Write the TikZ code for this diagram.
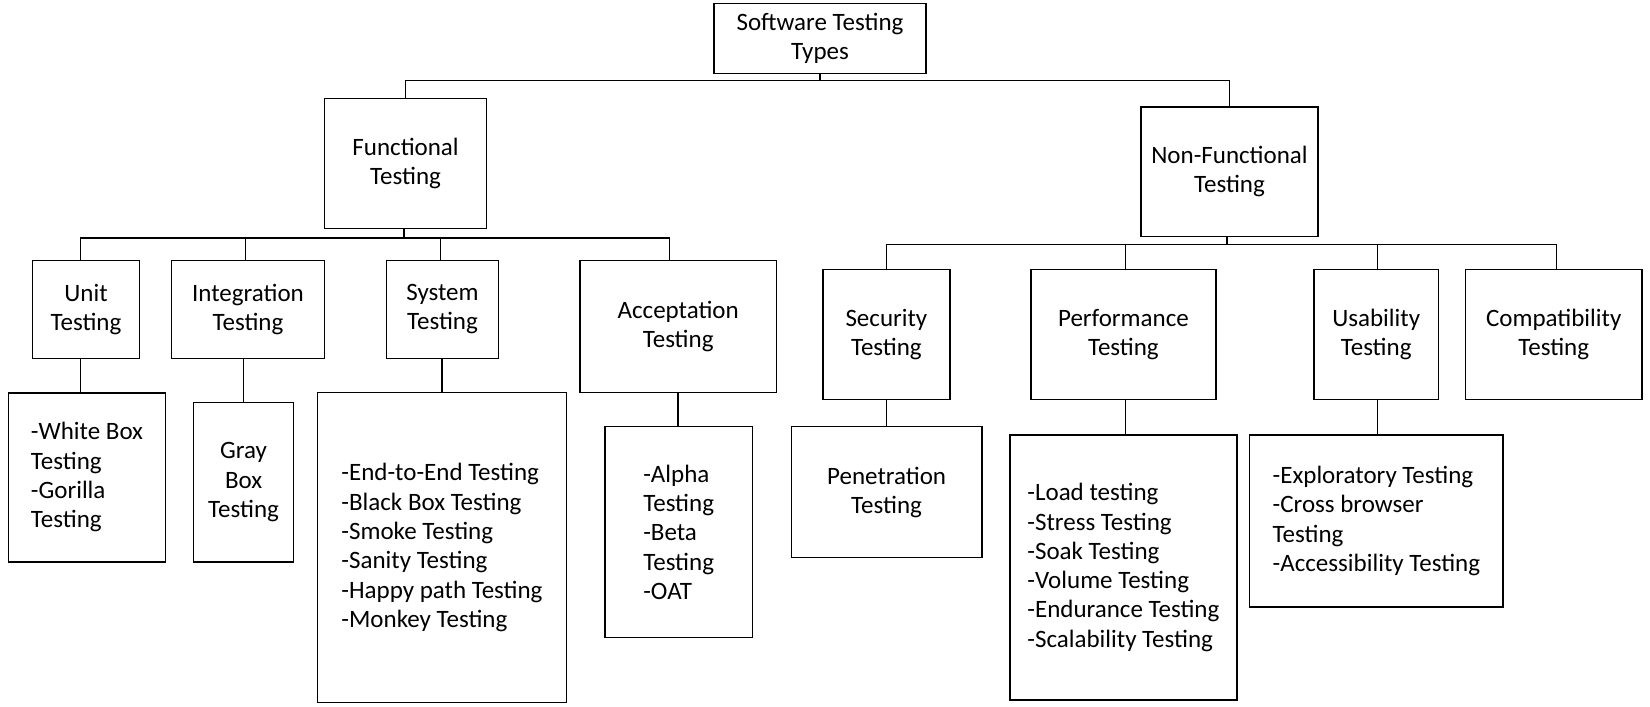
\documentclass[tikz,border=0pt]{standalone}
\usepackage{fontspec}
\setmainfont{Carlito}
\begin{document}
\begin{tikzpicture}[x=1pt,y=-1pt,
  box/.style={draw=black, line width=1.5pt, inner sep=0pt, align=center,
    font=\fontsize{25}{29.3}\selectfont},
  lst/.style={box, align=left},
  conn/.style={draw=black, line width=1.5pt}]
\useasboundingbox (0,0) rectangle (1650,707);
% level 0
\node[box, minimum width=212pt, minimum height=70pt] (root) at (820,38.3) {Software Testing\\Types};
% level 1
\node[box, minimum width=162pt, minimum height=129.6pt] (func) at (405.6,163.5) {Functional\\Testing};
\node[box, minimum width=177pt, minimum height=129.7pt] (nf) at (1229.5,171.8) {Non-Functional\\Testing};
% level 2 functional
\node[box, minimum width=106.8pt, minimum height=98pt] (unit) at (86,309.3) {Unit\\Testing};
\node[box, minimum width=153.1pt, minimum height=98pt] (integ) at (248,309.3) {Integration\\Testing};
\node[box, minimum width=111.6pt, minimum height=98pt] (sys) at (442.5,309.3) {System\\Testing};
\node[box, minimum width=196.8pt, minimum height=132.4pt] (acc) at (678.2,326.5) {Acceptation\\Testing};
% level 2 non-functional
\node[box, minimum width=126.7pt, minimum height=130pt] (sec) at (886.4,334.3) {Security\\Testing};
\node[box, minimum width=185.3pt, minimum height=130pt] (perf) at (1123.4,334.3) {Performance\\Testing};
\node[box, minimum width=124.7pt, minimum height=130pt] (usab) at (1376.2,334.3) {Usability\\Testing};
\node[box, minimum width=176.7pt, minimum height=130pt] (comp) at (1553.7,334.3) {Compatibility\\Testing};
% level 3
\node[lst, minimum width=157.3pt, minimum height=169.3pt] (wb) at (87,477.4) {-White Box\\Testing\\-Gorilla\\Testing};
\node[box, minimum width=100pt, minimum height=159.7pt] (gray) at (243.6,482.2) {Gray\\Box\\Testing};
\node[lst, minimum width=249.4pt, minimum height=310pt] (syslist) at (442,547.7) {-End-to-End Testing\\-Black Box Testing\\-Smoke Testing\\-Sanity Testing\\-Happy path Testing\\-Monkey Testing};
\node[lst, minimum width=147.4pt, minimum height=211pt] (acclist) at (678.7,532.2) {-Alpha\\Testing\\-Beta\\Testing\\-OAT};
\node[box, minimum width=190.5pt, minimum height=131pt] (pen) at (886.6,492.2) {Penetration\\Testing};
\node[lst, minimum width=227.3pt, minimum height=265pt] (perflist) at (1123.4,567.5) {-Load testing\\-Stress Testing\\-Soak Testing\\-Volume Testing\\-Endurance Testing\\-Scalability Testing};
\node[lst, minimum width=253.6pt, minimum height=171.7pt] (uslist) at (1376.4,520.9) {-Exploratory Testing\\-Cross browser\\Testing\\-Accessibility Testing};
% connectors level 0 -> 1
\coordinate (b0) at (820,80.7);
\draw[conn] (root.south) -- (b0) -| (func.north);
\draw[conn] (b0) -| (nf.north);
% functional -> children
\draw[conn] ([xshift=-1.6pt]func.south) -- ++(0,9) coordinate (b1);
\draw[conn] (b1) -| ([xshift=-5.5pt]unit.north);
\draw[conn] (b1) -| ([xshift=-2.3pt]integ.north);
\draw[conn] (b1) -| ([xshift=-2.1pt]sys.north);
\draw[conn] (b1) -| ([xshift=-8.9pt]acc.north);
% non-functional -> children
\draw[conn] ([xshift=-2.5pt]nf.south) -- ++(0,7.3) coordinate (b2);
\draw[conn] (b2) -| (sec.north);
\draw[conn] (b2) -| ([xshift=2pt]perf.north);
\draw[conn] (b2) -| ([xshift=1.3pt]usab.north);
\draw[conn] (b2) -| ([xshift=2.7pt]comp.north);
% level 2 -> 3
\draw[conn] ([xshift=-5.5pt]unit.south) -- ([xshift=-5.5pt]unit.south |- wb.north);
\draw[conn] (integ.south -| gray.north) -- (gray.north);
\draw[conn] (sys.south -| syslist.north) -- (syslist.north);
\draw[conn] (acc.south) -- (acc.south |- acclist.north);
\draw[conn] (sec.south -| pen.north) -- (pen.north);
\draw[conn] ([xshift=2pt]perf.south) -- ([xshift=2pt]perf.south |- perflist.north);
\draw[conn] ([xshift=1.3pt]usab.south) -- ([xshift=1.3pt]usab.south |- uslist.north);
\end{tikzpicture}
\end{document}
